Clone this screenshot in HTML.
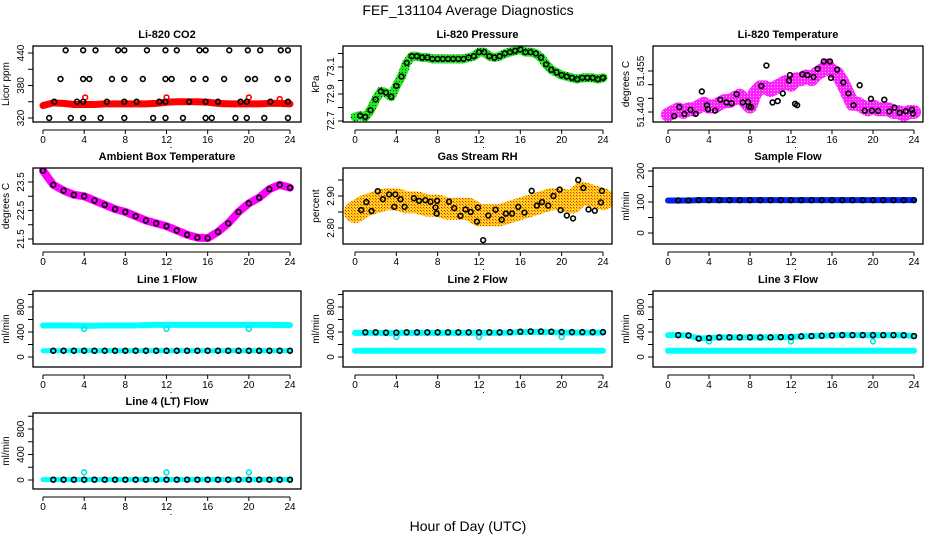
<!DOCTYPE html>
<html><head><meta charset="utf-8"><style>
html,body{margin:0;padding:0;background:#fff;}
svg{display:block;font-family:"Liberation Sans",Arial,sans-serif;}
</style></head><body>
<svg id="chart" width="936" height="540" viewBox="0 0 936 540" xmlns="http://www.w3.org/2000/svg">
<defs>
<pattern id="pG" width="3" height="3" patternUnits="userSpaceOnUse"><rect width="3" height="3" fill="#22e822"/><rect width="1" height="1" fill="#0a4a0a"/></pattern>
<pattern id="pM" width="3" height="3" patternUnits="userSpaceOnUse"><rect width="3" height="3" fill="#ff22ff"/><rect width="1" height="1" fill="#ffb0ff"/></pattern>
<pattern id="pO" width="3" height="3" patternUnits="userSpaceOnUse"><rect width="3" height="3" fill="#ffd21a"/><rect width="1" height="1" fill="#e8201a"/><rect x="1" y="1" width="1" height="1" fill="#f07010"/></pattern>
</defs>
<text x="468" y="15" text-anchor="middle" font-size="14">FEF_131104  Average Diagnostics</text>
<text x="468" y="531" text-anchor="middle" font-size="14">Hour of Day (UTC)</text>
</svg>
<script>
// ---- data ----
const xTicks = [0,4,8,12,16,20,24];
const co2Hours = [0,1,2,3,4,5,6,7,8,9,10,11,12,13,14,15,16,17,18,19,20,21,22,23,24];
const co2Red = [343,348,347,345,345,345,346,346,346,346,346,347,349,350,350,350,349,347,346,346,346,346,347,347,346];
const co2RedOut = [[4.1,12,20,23],[358,358,358,355]];
const co2BlackX = [2.2,3.9,5.1,7.3,7.9,10.1,11.9,13,15.2,15.8,18.1,19.9,21.1,23.1,23.8,
 1.7,3.9,4.5,6.7,7.9,9.7,11.9,12.5,14.6,15.8,17.6,19.9,20.6,22.8,23.8,
 1.1,3.3,3.9,6.2,7.9,9.1,11.3,11.9,14.2,15.8,17,19.2,19.8,22.1,23.8,
 0.6,2.7,3.9,5.6,7.9,10.7,11.9,13.6,15.8,16.4,18.7,19.8,21.5,23.8];
const co2BlackY = [445,445,445,445,445,445,445,445,445,445,445,445,445,445,445,
 392,392,392,392,392,392,392,392,392,392,392,392,392,392,392,
 350,350,350,350,350,350,350,350,350,350,350,350,350,350,350,
 320,320,320,320,320,320,320,320,320,320,320,320,320,320];
const halfHours = [];
for (let i = 0; i <= 48; i++) halfHours.push(i/2);
const pressure = [72.73,72.74,72.73,72.78,72.86,72.92,72.91,72.88,72.96,73.03,73.13,73.18,73.18,73.17,73.17,73.16,73.16,73.16,73.16,73.16,73.16,73.16,73.17,73.18,73.21,73.21,73.18,73.17,73.18,73.2,73.21,73.22,73.23,73.21,73.21,73.2,73.17,73.12,73.08,73.06,73.04,73.03,73.02,73.01,73.02,73.02,73.02,73.01,73.02];
const liTemp = [51.4390,51.4400,51.4410,51.4400,51.4410,51.4410,51.4420,51.4430,51.4420,51.4420,51.4430,51.4440,51.4440,51.4450,51.4460,51.4440,51.4420,51.4470,51.4490,51.4490,51.4480,51.4490,51.4500,51.4510,51.4500,51.4520,51.4520,51.4530,51.4520,51.4540,51.4550,51.4570,51.4550,51.4540,51.4510,51.4470,51.4430,51.4430,51.4420,51.4410,51.4420,51.4410,51.4410,51.4410,51.4400,51.4400,51.4390,51.4400,51.4400];
const liBX = [0.6,1.1,1.6,2.2,2.7,3.3,3.8,3.9,4.6,5.1,5.7,6.2,6.7,7.3,7.8,7.9,8.1,9.1,9.6,10.2,10.7,11.2,11.8,11.9,12.4,12.6,13.1,13.6,14.2,14.6,15.2,15.8,15.9,16.5,17.1,17.6,18.1,18.7,19.2,19.8,19.9,20.5,21.1,21.6,22.1,22.6,23.2,23.8,23.9];
const liBY = [51.4385,51.4418,51.4393,51.4408,51.4393,51.4475,51.4425,51.4410,51.4405,51.4445,51.4435,51.4432,51.4465,51.4435,51.4437,51.4420,51.4418,51.4495,51.4570,51.4435,51.4440,51.4468,51.4515,51.4535,51.4430,51.4425,51.4538,51.4535,51.4528,51.4558,51.4585,51.4585,51.4525,51.4555,51.4508,51.4468,51.4425,51.4498,51.4405,51.4448,51.4405,51.4404,51.4445,51.4402,51.4416,51.4397,51.4403,51.4408,51.4395];
const ambient = [23.9,23.4,23.2,23.05,23.0,22.85,22.7,22.55,22.45,22.3,22.15,22.05,21.95,21.8,21.65,21.55,21.53,21.75,22.05,22.45,22.75,22.95,23.25,23.4,23.3];
const rhBand = [2.85,2.87,2.88,2.89,2.89,2.88,2.88,2.87,2.87,2.86,2.86,2.86,2.84,2.84,2.84,2.85,2.86,2.87,2.88,2.89,2.89,2.88,2.91,2.90,2.89];
const rhBX = [0.6,1.1,1.6,2.2,2.7,3.3,3.8,3.9,4.4,4.8,5.7,6.2,6.8,7.3,7.8,7.9,7.95,9.1,9.6,10.2,10.7,11.2,11.8,11.9,12.4,12.9,13.6,14.2,14.6,15.2,15.8,16.4,17.1,17.6,18.1,18.7,19.2,19.8,19.9,20.5,21.1,21.6,22.1,22.6,23.2,23.8,23.9];
const rhBY = [2.856,2.881,2.853,2.915,2.890,2.905,2.866,2.905,2.890,2.866,2.893,2.885,2.887,2.882,2.864,2.845,2.885,2.882,2.862,2.838,2.858,2.850,2.820,2.864,2.762,2.839,2.857,2.826,2.845,2.845,2.866,2.848,2.916,2.870,2.881,2.870,2.900,2.920,2.856,2.839,2.830,2.950,2.925,2.858,2.854,2.880,2.916];
const sampleFlow = [105,105,105,106,106,106,106,106,106,106,106,106,106,106,106,106,106,106,106,106,106,106,106,106,106];
const line1Cyan = [505,505,505,505,500,500,505,505,505,505,510,515,515,515,515,515,515,515,515,515,515,515,515,512,510];
const line1Low = [100,100,100,100,100,100,100,100,100,100,100,100,100,100,100,100,100,100,100,100,100,100,100,100,100];
const line2Black = [395,395,395,390,390,395,395,395,395,395,395,395,395,395,395,398,405,408,408,405,400,398,398,398,398];
const line2Low = [100,100,100,100,100,100,100,100,100,100,100,100,100,100,100,100,100,100,100,100,100,100,100,100,100];
const line3Black = [350,350,345,295,305,315,315,315,315,315,315,318,320,330,335,340,345,350,350,350,350,350,350,348,335];
const line3Low = [100,100,100,100,100,100,100,100,100,100,100,100,100,100,100,100,100,100,100,100,100,100,100,100,100];
const line4Black = [5,5,5,5,5,5,5,5,5,5,5,5,5,5,5,5,5,5,5,5,5,5,5,5,5];
const outHours = [4,12,20];
const line1Out = [450,450,450];
const line2Out = [320,320,320];
const line3Out = [250,250,250];
const line4Out = [120,120,120];

// ---- layout ----
const svg = document.getElementById('chart');
const NS = 'http://www.w3.org/2000/svg';
const cols = [{L:33,R:301,x0:43,x24:290},{L:343,R:612,x0:355,x24:603},{L:653,R:923,x0:668,x24:914}];
const rowsT = [46,168,291,413], rowsB = [122,244,367,489];
function mk(tag, attrs, parent){ const e=document.createElementNS(NS,tag); for(const k in attrs) e.setAttribute(k,attrs[k]); (parent||svg).appendChild(e); return e; }

function panel(name, c, r, title, ylab, ref, ticks, labels){
  const C=cols[c], T=rowsT[r], B=rowsB[r];
  const g=mk('g',{});
  
  
  const sx = h => C.x0 + (C.x24-C.x0)*h/24;
  const sy = v => ref[1] + (v-ref[0])*(ref[3]-ref[1])/(ref[2]-ref[0]);
  const clipId='clip-'+name;
  const cp=mk('clipPath',{id:clipId},g); mk('rect',{x:C.L,y:T,width:C.R-C.L,height:B-T},cp);
  const plot=mk('g',{'clip-path':'url(#'+clipId+')'},g);
  const box=mk('rect',{x:C.L,y:T,width:C.R-C.L,height:B-T,fill:'none',stroke:'#000','stroke-width':1.3},g);
  
  
  const tt=mk('text',{x:(C.L+C.R)/2,y:T-8,'text-anchor':'middle','font-size':11,'font-weight':'bold'},g);
  tt.textContent=title;
  
  
  // x axis
  const ay=B+8;
  const xa=mk('g',{},g);
  
  
  mk('line',{x1:sx(0),x2:sx(24),y1:ay,y2:ay,stroke:'#000','stroke-width':1},xa);
  xTicks.forEach(t=>{
    mk('line',{x1:sx(t),x2:sx(t),y1:ay,y2:ay+4,stroke:'#000'},xa);
    const tx=mk('text',{x:sx(t),y:ay+13,'text-anchor':'middle','font-size':10},xa);
    tx.textContent=t;
  });
  mk('rect',{x:sx(12)+4,y:ay+17,width:1,height:1,fill:'#000'},xa);
  // y axis
  const ya=mk('g',{},g);
  
  
  ticks.forEach(t=>{
    const y=sy(t); if(y<T-1||y>B+1) return;
    mk('line',{x1:C.L-5,x2:C.L,y1:y,y2:y,stroke:'#000'},ya);
  });
  labels.forEach(t=>{
    const y=sy(t);
    const tx=mk('text',{x:C.L-9,y:y,'text-anchor':'middle','font-size':10,transform:'rotate(-90 '+(C.L-9)+' '+y+')'},ya);
    tx.textContent=String(t);
  });
  const yl=mk('text',{x:C.L-24,y:(T+B)/2,'text-anchor':'middle','font-size':10,transform:'rotate(-90 '+(C.L-24)+' '+((T+B)/2)+')'},g);
  yl.textContent=ylab;
  
  
  return {plot, sx, sy};
}
function band(p, xs, ys, color, w, name){
  const pts=xs.map((h,i)=>p.sx(h)+','+p.sy(ys[i])).join(' ');
  const l=mk('polyline',{points:pts,fill:'none',stroke:color,'stroke-width':w,'stroke-linejoin':'round','stroke-linecap':'round'},p.plot);
  
  
}
function pts(p, xs, ys, color, name, r){
  const n=Math.min(xs.length, ys.length);
  for(let i=0;i<n;i++){
    const c=mk('circle',{cx:p.sx(xs[i]),cy:p.sy(ys[i]),r:r||2.4,fill:'none',stroke:color,'stroke-width':1.6},p.plot);
    
    
  }
}

// Row 1
let p=panel('li820-co2',0,0,'Li-820 CO2','Licor ppm',[320,118,440,53],[320,350,380,410,440],[320,380,440]);
band(p,co2Hours,co2Red,'#f00',7,'co2-red-band');
pts(p,co2RedOut[0],co2RedOut[1],'#f00','co2-red-point');
pts(p,co2BlackX,co2BlackY,'#000','co2-black-point');

p=panel('li820-pressure',1,0,'Li-820 Pressure','kPa',[72.7,121,73.1,67],[72.7,72.8,72.9,73.0,73.1,73.2],[72.7,72.9,73.1]);
band(p,halfHours,pressure,'url(#pG)',9,'pressure-band');
pts(p,halfHours.slice(1),pressure.slice(1),'#000','pressure-point');

p=panel('li820-temperature',2,0,'Li-820 Temperature','degrees C',[51.44,112,51.455,71],[51.44,51.445,51.45,51.455],['51.440','51.455']);
band(p,halfHours,liTemp,'url(#pM)',14,'litemp-band');
pts(p,liBX,liBY,'#000','litemp-point');

// Row 2
p=panel('ambient-box-temperature',0,1,'Ambient Box Temperature','degrees C',[21.5,239,23.5,182],[21.5,22,22.5,23,23.5],[21.5,22.5,23.5]);
band(p,co2Hours,ambient,'#f0f',8,'ambient-band');
pts(p,co2Hours,ambient,'#000','ambient-point');

p=panel('gas-stream-rh',1,1,'Gas Stream RH','percent',[2.8,228,2.9,196],[2.8,2.85,2.9,2.95],['2.80','2.90']);
band(p,co2Hours,rhBand,'url(#pO)',22,'rh-band');
pts(p,rhBX,rhBY,'#000','rh-point');

p=panel('sample-flow',2,1,'Sample Flow','ml/min',[0,233,200,171],[0,50,100,150,200],[0,100,200]);
band(p,co2Hours,sampleFlow,'#0022ee',6,'sample-flow-band');
pts(p,co2Hours.slice(1),sampleFlow.slice(1),'#000','sample-flow-point');

// Row 3
const flowTicks=[0,200,400,600,800,1000], flowLabels=[0,400,800];
p=panel('line1-flow',0,2,'Line 1 Flow','ml/min',[0,357,800,307],flowTicks,flowLabels);
band(p,co2Hours,line1Cyan,'#00ffff',6,'line1-cyan-band');
band(p,co2Hours,line1Low,'#00ffff',5,'line1-low-band');
pts(p,outHours,line1Out,'#00e5e5','line1-outlier');
pts(p,co2Hours.slice(1),line1Low.slice(1),'#000','line1-point');

p=panel('line2-flow',1,2,'Line 2 Flow','ml/min',[0,357,800,307],flowTicks,flowLabels);
band(p,co2Hours,line2Black.map(v=>v-8),'#00ffff',6,'line2-cyan-band');
band(p,co2Hours,line2Low,'#00ffff',6,'line2-low-band');
pts(p,outHours,line2Out,'#00e5e5','line2-outlier');
pts(p,co2Hours.slice(1),line2Black.slice(1),'#000','line2-point');

p=panel('line3-flow',2,2,'Line 3 Flow','ml/min',[0,357,800,307],flowTicks,flowLabels);
band(p,co2Hours,line3Black,'#00ffff',6,'line3-cyan-band');
band(p,co2Hours,line3Low,'#00ffff',6,'line3-low-band');
pts(p,outHours,line3Out,'#00e5e5','line3-outlier');
pts(p,co2Hours.slice(1),line3Black.slice(1),'#000','line3-point');

// Row 4
p=panel('line4-flow',0,3,'Line 4 (LT) Flow','ml/min',[0,480,800,429],flowTicks,flowLabels);
band(p,co2Hours,line4Black,'#00ffff',5,'line4-cyan-band');
pts(p,outHours,line4Out,'#00e5e5','line4-outlier');
pts(p,co2Hours.slice(1),line4Black.slice(1),'#000','line4-point');
</script>
</body></html>
